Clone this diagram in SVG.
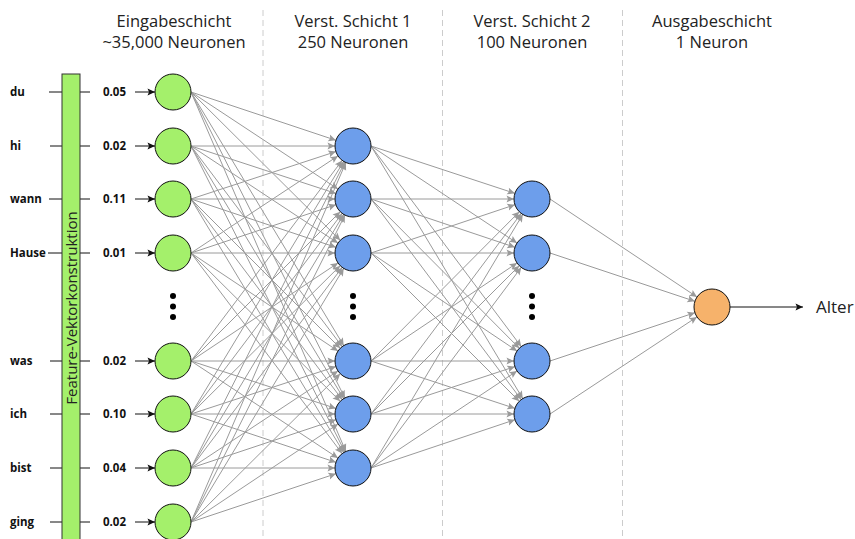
<svg xmlns="http://www.w3.org/2000/svg" width="855" height="539" viewBox="0 0 855 539">
<style>
.hdr{font-family:"Open Sans","Liberation Sans",sans-serif;font-size:16.5px;fill:#222;text-anchor:middle}
.lbl{font-family:"Open Sans","Liberation Sans",sans-serif;font-size:11.5px;font-weight:bold;fill:#111}
.c{stroke:#9a9a9a;stroke-width:1;fill:none;marker-end:url(#ag)}
.tick{stroke:#111;stroke-width:1}
.in{stroke:#111;stroke-width:1;marker-end:url(#ab)}
.sep{stroke:#cccccc;stroke-width:1;stroke-dasharray:6,4}
.g{fill:#a4f06b;stroke:#111;stroke-width:1}
.b{fill:#6d9eeb;stroke:#111;stroke-width:1}
.o{fill:#f6b26b;stroke:#111;stroke-width:1}
</style>
<defs>
<marker id="ag" markerUnits="userSpaceOnUse" viewBox="-30 -5 30 10" refX="0" refY="0" markerWidth="30" markerHeight="10" orient="auto"><path d="M-25.5,-3.5 L-18,0 L-25.5,3.5 L-24,0 Z" fill="#9a9a9a"/></marker>
<marker id="ab" markerUnits="userSpaceOnUse" viewBox="-10 -5 10 10" refX="0" refY="0" markerWidth="10" markerHeight="10" orient="auto"><path d="M-7.5,-3.5 L0,0 L-7.5,3.5 L-6,0 Z" fill="#111"/></marker>
</defs>
<rect width="855" height="539" fill="#fff"/>
<g id="separators">
<line class="sep" x1="263" y1="10" x2="263" y2="539"/>
<line class="sep" x1="442.5" y1="10" x2="442.5" y2="539"/>
<line class="sep" x1="622.5" y1="10" x2="622.5" y2="539"/>
</g>
<g id="headers">
<text class="hdr" x="174" y="27">Eingabeschicht</text>
<text class="hdr" x="174" y="48">~35,000 Neuronen</text>
<text class="hdr" x="353" y="27">Verst. Schicht 1</text>
<text class="hdr" x="353" y="48">250 Neuronen</text>
<text class="hdr" x="532" y="27">Verst. Schicht 2</text>
<text class="hdr" x="532" y="48">100 Neuronen</text>
<text class="hdr" x="712" y="27">Ausgabeschicht</text>
<text class="hdr" x="712" y="48">1 Neuron</text>
</g>
<g id="connectors">
<line class="c" x1="191" y1="92" x2="353" y2="146"/><line class="c" x1="191" y1="92" x2="353" y2="199"/><line class="c" x1="191" y1="92" x2="353" y2="253"/><line class="c" x1="191" y1="92" x2="353" y2="361"/><line class="c" x1="191" y1="92" x2="353" y2="414"/><line class="c" x1="191" y1="92" x2="353" y2="468"/>
<line class="c" x1="191" y1="146" x2="353" y2="146"/><line class="c" x1="191" y1="146" x2="353" y2="199"/><line class="c" x1="191" y1="146" x2="353" y2="253"/><line class="c" x1="191" y1="146" x2="353" y2="361"/><line class="c" x1="191" y1="146" x2="353" y2="414"/><line class="c" x1="191" y1="146" x2="353" y2="468"/>
<line class="c" x1="191" y1="199" x2="353" y2="146"/><line class="c" x1="191" y1="199" x2="353" y2="199"/><line class="c" x1="191" y1="199" x2="353" y2="253"/><line class="c" x1="191" y1="199" x2="353" y2="361"/><line class="c" x1="191" y1="199" x2="353" y2="414"/><line class="c" x1="191" y1="199" x2="353" y2="468"/>
<line class="c" x1="191" y1="253" x2="353" y2="146"/><line class="c" x1="191" y1="253" x2="353" y2="199"/><line class="c" x1="191" y1="253" x2="353" y2="253"/><line class="c" x1="191" y1="253" x2="353" y2="361"/><line class="c" x1="191" y1="253" x2="353" y2="414"/><line class="c" x1="191" y1="253" x2="353" y2="468"/>
<line class="c" x1="191" y1="361" x2="353" y2="146"/><line class="c" x1="191" y1="361" x2="353" y2="199"/><line class="c" x1="191" y1="361" x2="353" y2="253"/><line class="c" x1="191" y1="361" x2="353" y2="361"/><line class="c" x1="191" y1="361" x2="353" y2="414"/><line class="c" x1="191" y1="361" x2="353" y2="468"/>
<line class="c" x1="191" y1="414" x2="353" y2="146"/><line class="c" x1="191" y1="414" x2="353" y2="199"/><line class="c" x1="191" y1="414" x2="353" y2="253"/><line class="c" x1="191" y1="414" x2="353" y2="361"/><line class="c" x1="191" y1="414" x2="353" y2="414"/><line class="c" x1="191" y1="414" x2="353" y2="468"/>
<line class="c" x1="191" y1="468" x2="353" y2="146"/><line class="c" x1="191" y1="468" x2="353" y2="199"/><line class="c" x1="191" y1="468" x2="353" y2="253"/><line class="c" x1="191" y1="468" x2="353" y2="361"/><line class="c" x1="191" y1="468" x2="353" y2="414"/><line class="c" x1="191" y1="468" x2="353" y2="468"/>
<line class="c" x1="191" y1="522" x2="353" y2="146"/><line class="c" x1="191" y1="522" x2="353" y2="199"/><line class="c" x1="191" y1="522" x2="353" y2="253"/><line class="c" x1="191" y1="522" x2="353" y2="361"/><line class="c" x1="191" y1="522" x2="353" y2="414"/><line class="c" x1="191" y1="522" x2="353" y2="468"/>
<line class="c" x1="371" y1="146" x2="532" y2="199"/><line class="c" x1="371" y1="146" x2="532" y2="253"/><line class="c" x1="371" y1="146" x2="532" y2="361"/><line class="c" x1="371" y1="146" x2="532" y2="414"/>
<line class="c" x1="371" y1="199" x2="532" y2="199"/><line class="c" x1="371" y1="199" x2="532" y2="253"/><line class="c" x1="371" y1="199" x2="532" y2="361"/><line class="c" x1="371" y1="199" x2="532" y2="414"/>
<line class="c" x1="371" y1="253" x2="532" y2="199"/><line class="c" x1="371" y1="253" x2="532" y2="253"/><line class="c" x1="371" y1="253" x2="532" y2="361"/><line class="c" x1="371" y1="253" x2="532" y2="414"/>
<line class="c" x1="371" y1="361" x2="532" y2="199"/><line class="c" x1="371" y1="361" x2="532" y2="253"/><line class="c" x1="371" y1="361" x2="532" y2="361"/><line class="c" x1="371" y1="361" x2="532" y2="414"/>
<line class="c" x1="371" y1="414" x2="532" y2="199"/><line class="c" x1="371" y1="414" x2="532" y2="253"/><line class="c" x1="371" y1="414" x2="532" y2="361"/><line class="c" x1="371" y1="414" x2="532" y2="414"/>
<line class="c" x1="371" y1="468" x2="532" y2="199"/><line class="c" x1="371" y1="468" x2="532" y2="253"/><line class="c" x1="371" y1="468" x2="532" y2="361"/><line class="c" x1="371" y1="468" x2="532" y2="414"/>
<line class="c" x1="550" y1="199" x2="712" y2="307"/><line class="c" x1="550" y1="253" x2="712" y2="307"/><line class="c" x1="550" y1="361" x2="712" y2="307"/><line class="c" x1="550" y1="414" x2="712" y2="307"/>
<line class="in" x1="135" y1="92" x2="155" y2="92"/><line class="in" x1="135" y1="146" x2="155" y2="146"/><line class="in" x1="135" y1="199" x2="155" y2="199"/><line class="in" x1="135" y1="253" x2="155" y2="253"/>
<line class="in" x1="135" y1="361" x2="155" y2="361"/><line class="in" x1="135" y1="414" x2="155" y2="414"/><line class="in" x1="135" y1="468" x2="155" y2="468"/><line class="in" x1="135" y1="522" x2="155" y2="522"/>
<line class="in" x1="730" y1="307" x2="803" y2="307"/>
<g id="ticks">
<line class="tick" x1="49" y1="92" x2="62" y2="92"/><line class="tick" x1="80" y1="92" x2="90" y2="92"/>
<line class="tick" x1="50" y1="146" x2="62" y2="146"/><line class="tick" x1="80" y1="146" x2="90" y2="146"/>
<line class="tick" x1="49" y1="199" x2="62" y2="199"/><line class="tick" x1="80" y1="199" x2="90" y2="199"/>
<line class="tick" x1="48" y1="253" x2="62" y2="253"/><line class="tick" x1="80" y1="253" x2="90" y2="253"/>
<line class="tick" x1="50" y1="361" x2="62" y2="361"/><line class="tick" x1="80" y1="361" x2="90" y2="361"/>
<line class="tick" x1="50" y1="414" x2="62" y2="414"/><line class="tick" x1="80" y1="414" x2="90" y2="414"/>
<line class="tick" x1="50" y1="468" x2="62" y2="468"/><line class="tick" x1="80" y1="468" x2="90" y2="468"/>
<line class="tick" x1="50" y1="522" x2="62" y2="522"/><line class="tick" x1="80" y1="522" x2="90" y2="522"/>
</g>
</g>
<g id="feature-bar">
<rect x="62" y="74" width="18" height="480" fill="#a4f06b" stroke="#333" stroke-width="1"/>
<text transform="translate(76.5,308) rotate(-90)" text-anchor="middle" font-family="'Open Sans','Liberation Sans',sans-serif" font-size="15" fill="#222">Feature-Vektorkonstruktion</text>
</g>
<g id="words">
<text class="lbl" x="10" y="96">du</text>
<text class="lbl" x="10" y="150">hi</text>
<text class="lbl" x="10" y="203">wann</text>
<text class="lbl" x="10" y="257">Hause</text>
<text class="lbl" x="10" y="365">was</text>
<text class="lbl" x="10" y="418">ich</text>
<text class="lbl" x="10" y="472">bist</text>
<text class="lbl" x="10" y="526">ging</text>
</g>
<g id="values">
<text class="lbl" x="103" y="96">0.05</text>
<text class="lbl" x="103" y="150">0.02</text>
<text class="lbl" x="103" y="203">0.11</text>
<text class="lbl" x="103" y="257">0.01</text>
<text class="lbl" x="103" y="365">0.02</text>
<text class="lbl" x="103" y="418">0.10</text>
<text class="lbl" x="103" y="472">0.04</text>
<text class="lbl" x="103" y="526">0.02</text>
</g>
<g id="input-layer">
<circle id="in1" class="g" cx="173" cy="92" r="18"/>
<circle id="in2" class="g" cx="173" cy="146" r="18"/>
<circle id="in3" class="g" cx="173" cy="199" r="18"/>
<circle id="in4" class="g" cx="173" cy="253" r="18"/>
<circle id="in5" class="g" cx="173" cy="361" r="18"/>
<circle id="in6" class="g" cx="173" cy="414" r="18"/>
<circle id="in7" class="g" cx="173" cy="468" r="18"/>
<circle id="in8" class="g" cx="173" cy="522" r="18"/>
</g>
<g id="hidden1">
<circle id="h1a" class="b" cx="353" cy="146" r="18"/>
<circle id="h1b" class="b" cx="353" cy="199" r="18"/>
<circle id="h1c" class="b" cx="353" cy="253" r="18"/>
<circle id="h1d" class="b" cx="353" cy="361" r="18"/>
<circle id="h1e" class="b" cx="353" cy="414" r="18"/>
<circle id="h1f" class="b" cx="353" cy="468" r="18"/>
</g>
<g id="hidden2">
<circle id="h2a" class="b" cx="532" cy="199" r="18"/>
<circle id="h2b" class="b" cx="532" cy="253" r="18"/>
<circle id="h2c" class="b" cx="532" cy="361" r="18"/>
<circle id="h2d" class="b" cx="532" cy="414" r="18"/>
</g>
<g id="output">
<circle id="out" class="o" cx="712" cy="307" r="18"/>
<text x="816" y="313" font-family="'Open Sans','Liberation Sans',sans-serif" font-size="17" fill="#222">Alter</text>
</g>
<g id="ellipsis" fill="#000">
<circle cx="173" cy="296" r="3"/><circle cx="173" cy="306.5" r="3"/><circle cx="173" cy="317" r="3"/>
<circle cx="353" cy="296" r="3"/><circle cx="353" cy="306.5" r="3"/><circle cx="353" cy="317" r="3"/>
<circle cx="532" cy="296" r="3"/><circle cx="532" cy="306.5" r="3"/><circle cx="532" cy="317" r="3"/>
</g>
</svg>
